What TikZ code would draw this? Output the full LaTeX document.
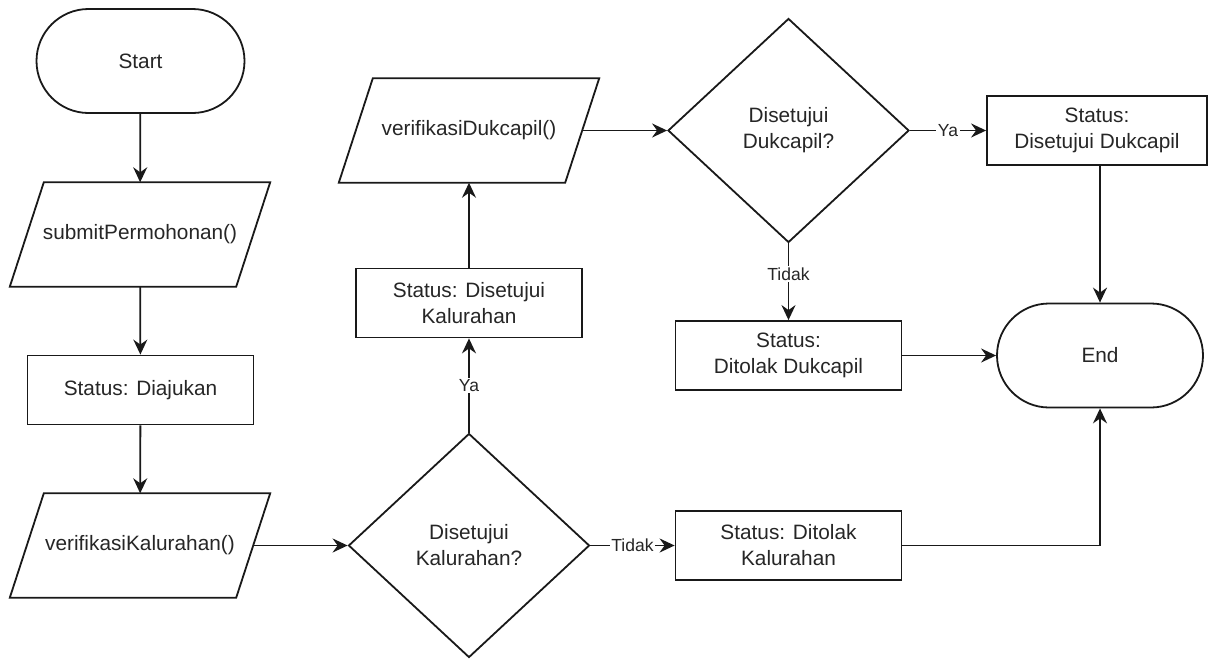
\documentclass[tikz,border=0pt]{standalone}
\usepackage{fontspec}
\setmainfont{Liberation Sans}
\usetikzlibrary{shapes.geometric, arrows.meta}

\begin{document}
\begin{tikzpicture}[x=1pt, y=-1pt,
  every node/.style={font=\fontsize{20.8}{26}\selectfont, text=black!85, align=center, inner sep=0pt},
  line/.style={draw=black!90, line width=1.8pt},
  term/.style={line, rectangle, rounded corners=52pt, minimum width=208pt, minimum height=104pt},
  proc/.style={line, rectangle, minimum width=226pt, minimum height=69pt},
  io/.style={rectangle, minimum width=226pt, minimum height=104pt},
  decision/.style={line, diamond, minimum width=241pt, minimum height=224pt},
  flow/.style={line, -{Stealth[length=15pt, width=14pt, inset=5pt]}},
  lbl/.style={font=\fontsize{17.5}{20}\selectfont, fill=white, inner sep=1.5pt}
]
  % page
  \path[use as bounding box, fill=white] (0,0) rectangle (1208,659);

  % left column
  \node[term] (start) at (140.5,61) {Start};
  \node[io] (submit) at (140,234.5) {submitPermohonan()};
  \node[proc] (diaj) at (140.5,390) {Status: Diajukan};
  \node[io] (vkal) at (140,545.5) {verifikasiKalurahan()};

  % Kalurahan check
  \node[decision] (dkal) at (469,545.5) {Disetujui\\Kalurahan?};
  \node[proc] (okkal) at (469,303) {Status: Disetujui\\Kalurahan};
  \node[proc] (nokal) at (788.5,545.5) {Status: Ditolak\\Kalurahan};

  % Dukcapil check
  \node[io] (vduk) at (469,130.5) {verifikasiDukcapil()};
  \node[decision] (dduk) at (788.5,130.5) {Disetujui\\Dukcapil?};
  \node[proc, minimum width=220pt] (okduk) at (1097,130.5) {Status:\\Disetujui Dukcapil};
  \node[proc] (noduk) at (788.5,355.5) {Status:\\Ditolak Dukcapil};
  \node[term, minimum width=206pt] (end) at (1100,355.5) {End};

  % input/output parallelograms around the io nodes
  \foreach \n in {submit, vkal, vduk}
    \draw[line, line join=miter]
      ([xshift=-17pt]\n.south west) -- ([xshift=-17pt]\n.south east) --
      ([xshift=17pt]\n.north east) -- ([xshift=17pt]\n.north west) -- cycle;

  % connectors
  \draw[flow] (start) -- (submit);
  \draw[flow] (submit) -- (diaj);
  \draw[flow] (diaj) -- (vkal);
  \draw[flow] (vkal.east) -- (dkal.west);
  \draw[flow] (dkal.north) -- node[lbl] {Ya} (okkal.south);
  \draw[flow] (dkal.east) -- node[lbl] {Tidak} (nokal.west);
  \draw[flow] (okkal) -- (vduk);
  \draw[flow] (vduk.east) -- (dduk.west);
  \draw[flow] (dduk.east) -- node[lbl] {Ya} (okduk.west);
  \draw[flow] (dduk.south) -- node[lbl, pos=0.4] {Tidak} (noduk.north);
  \draw[flow] (okduk.south -| end.north) -- (end.north);
  \draw[flow] (noduk.east) -- (end.west);
  \draw[flow] (nokal.east) -| (end.south);
\end{tikzpicture}
\end{document}
